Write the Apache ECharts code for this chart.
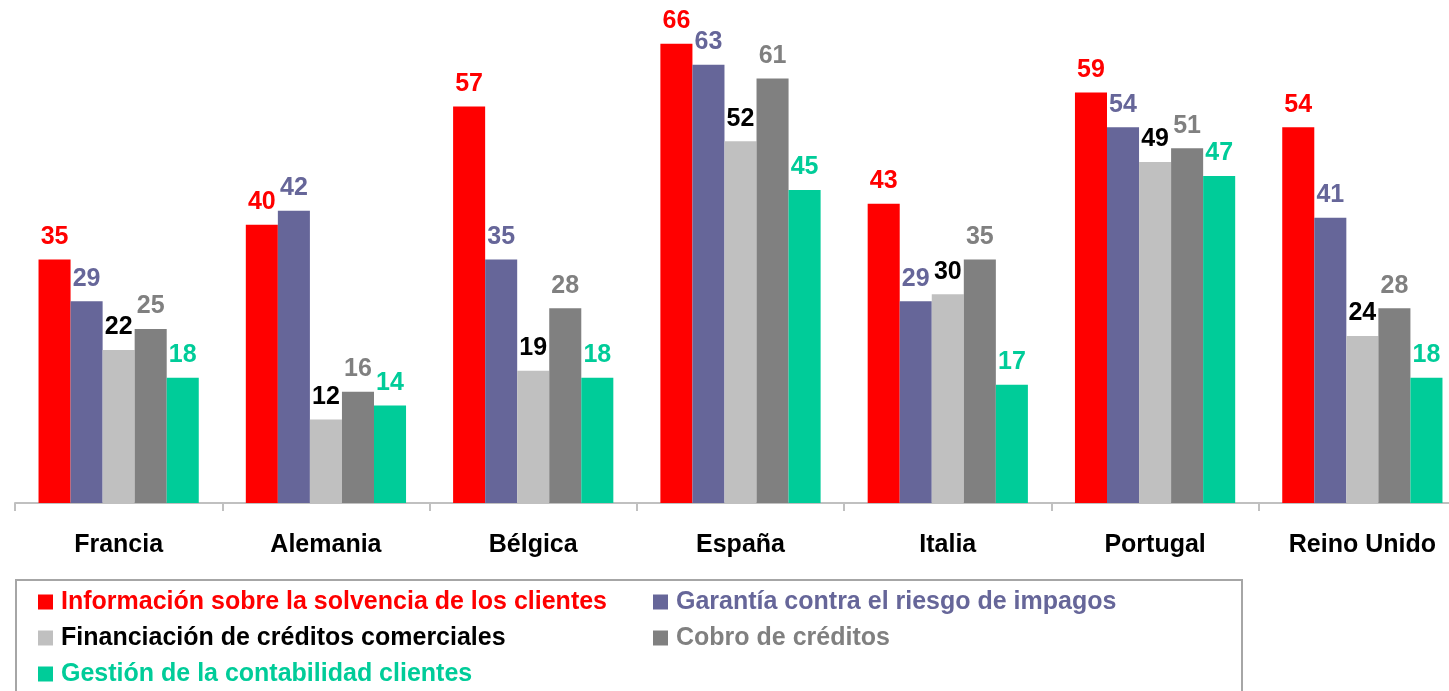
<!DOCTYPE html>
<html>
<head>
<meta charset="utf-8">
<script src="https://cdn.jsdelivr.net/npm/echarts@6/dist/echarts.min.js"></script>
<style>
  html, body { margin: 0; padding: 0; background: #fff; overflow: hidden; }
  /* the plot runs a little past the right edge of the window, as in the original */
  #chart { width: 1466px; height: 691px; }
</style>
</head>
<body>
<div id="chart"></div>
<script>
// categories and series values
var paises = ['Francia', 'Alemania', 'Bélgica', 'España', 'Italia', 'Portugal', 'Reino Unido'];
var solvencia = [35, 40, 57, 66, 43, 59, 54];
var impagos = [29, 42, 35, 63, 29, 54, 41];
var financiacion = [22, 12, 19, 52, 30, 49, 24];
var cobro = [25, 16, 28, 61, 35, 51, 28];
var contabilidad = [18, 14, 18, 45, 17, 47, 18];

var nombres = [
  'Información sobre la solvencia de los clientes',
  'Garantía contra el riesgo de impagos',
  'Financiación de créditos comerciales',
  'Cobro de créditos',
  'Gestión de la contabilidad clientes'
];
var colores = ['#ff0000', '#666699', '#c0c0c0', '#808080', '#00cc99'];
var coloresTexto = ['#ff0000', '#666699', '#000000', '#808080', '#00cc99'];
var valores = [solvencia, impagos, financiacion, cobro, contabilidad];

var fuente = '"Liberation Sans", Arial, sans-serif';

var series = valores.map(function (v, i) {
  return {
    name: nombres[i],
    type: 'bar',
    data: v,
    barGap: '0%',
    barCategoryGap: '22.7%',
    itemStyle: { color: colores[i] },
    label: {
      show: true,
      position: 'top',
      distance: 10,
      color: coloresTexto[i],
      fontFamily: fuente,
      fontWeight: 'bold',
      fontSize: 25
    }
  };
});

function itemsLeyenda(idx) {
  return idx.map(function (i) {
    return { name: nombres[i], textStyle: { color: coloresTexto[i] } };
  });
}

var leyendaBase = {
  orient: 'vertical',
  top: 589,
  padding: 0,
  icon: 'rect',
  itemWidth: 15,
  itemHeight: 15,
  itemGap: 10,
  selectedMode: false,
  textStyle: {
    fontFamily: fuente,
    fontWeight: 'bold',
    fontSize: 25,
    lineHeight: 26,
    padding: [0, 0, 0, 3]
  }
};

var chart = echarts.init(document.getElementById('chart'));
chart.setOption({
  animation: false,
  grid: { left: 15, right: 0, top: 16, bottom: 188 },
  xAxis: {
    type: 'category',
    data: paises,
    axisLine: { lineStyle: { color: '#c0c0c0', width: 2 } },
    axisTick: { show: true, length: 8, lineStyle: { color: '#c0c0c0', width: 2 } },
    axisLabel: {
      margin: 30,
      color: '#000',
      fontFamily: fuente,
      fontWeight: 'bold',
      fontSize: 25
    }
  },
  yAxis: {
    type: 'value',
    min: 0,
    max: 70,
    show: false,
    splitLine: { show: false }
  },
  legend: [
    Object.assign({}, leyendaBase, { left: 38, data: itemsLeyenda([0, 2, 4]) }),
    Object.assign({}, leyendaBase, { left: 653, data: itemsLeyenda([1, 3]) })
  ],
  graphic: [{
    type: 'rect',
    shape: { x: 16, y: 580, width: 1226, height: 130 },
    style: { fill: 'none', stroke: '#a6a6a6', lineWidth: 2 },
    silent: true
  }],
  series: series
});
</script>
</body>
</html>
